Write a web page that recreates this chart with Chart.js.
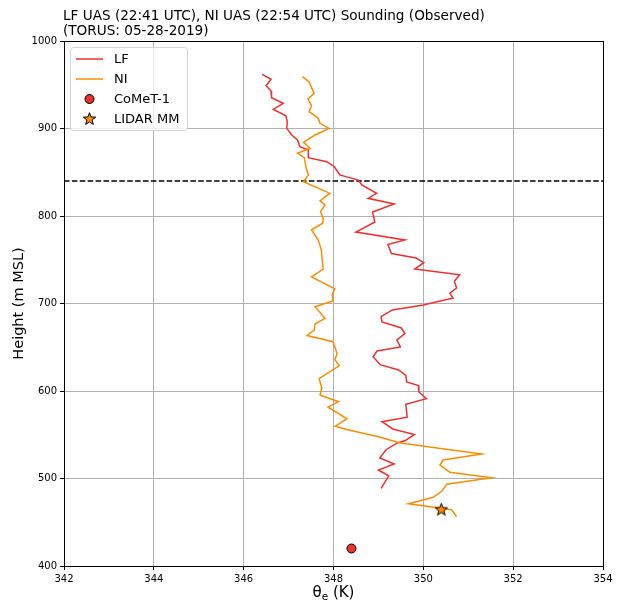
<!DOCTYPE html>
<html>
<head>
<meta charset="utf-8">
<script src="https://cdn.jsdelivr.net/npm/chart.js@4.4.1/dist/chart.umd.min.js"></script>
<style>
  html, body { margin: 0; padding: 0; background: #fff; }
  #wrap { width: 618px; height: 600px; }
</style>
</head>
<body>
<div id="wrap"><canvas id="chart" width="618" height="600"></canvas></div>
<script>
// sounding data (theta-e in K, height in m MSL)
const lfTheta = [346.41, 346.61, 346.50, 346.61, 346.62, 346.88, 346.66, 346.94, 346.97, 346.96,
  347.07, 347.20, 347.25, 347.44, 347.44, 347.85, 348.02, 348.14, 348.55, 348.63,
  348.96, 348.77, 349.35, 348.87, 348.92, 348.50, 349.59, 349.21, 349.29, 349.84,
  350.01, 349.81, 350.81, 350.69, 350.74, 350.59, 350.66, 350.00, 349.31, 349.06,
  349.08, 349.51, 349.59, 349.41, 349.49, 348.97, 348.88, 349.04, 349.45, 349.61,
  349.63, 349.89, 349.90, 350.07, 349.61, 349.64, 349.08, 349.32, 349.80, 349.60,
  349.42, 349.17, 349.03, 349.35, 349.00, 349.23, 349.06];
const lfHeight = [961.9, 956.2, 948.9, 942.9, 935.2, 928.8, 921.9, 914.6, 907.8, 900.2,
  892.6, 886.9, 879.2, 875.4, 866.6, 862.1, 856.3, 846.9, 841.1, 835.4,
  825.9, 820.2, 813.7, 804.6, 793.1, 781.7, 772.6, 767.4, 757.1, 752.0,
  746.6, 739.4, 732.9, 725.4, 717.7, 711.7, 706.3, 698.3, 692.6, 685.1,
  678.9, 672.0, 665.7, 658.3, 650.3, 645.7, 639.2, 630.1, 624.0, 617.7,
  610.3, 606.3, 598.9, 591.2, 584.9, 570.1, 564.9, 556.6, 550.3, 543.4,
  540.6, 532.9, 523.4, 516.6, 509.7, 503.1, 488.8];

const niTheta = [347.31, 347.45, 347.57, 347.43, 347.51, 347.46, 347.66, 347.70, 347.90, 347.59,
  347.33, 347.48, 347.20, 347.35, 347.39, 347.44, 347.33, 347.92, 347.70, 347.81,
  347.71, 347.77, 347.76, 347.51, 347.66, 347.73, 347.75, 347.77, 347.51, 348.03,
  347.97, 347.99, 347.59, 347.81, 347.59, 347.57, 347.41, 347.99, 348.08, 348.03,
  348.13, 347.68, 347.74, 347.70, 348.11, 347.88, 348.30, 348.04, 348.29, 348.98,
  349.49, 351.30, 350.44, 350.37, 350.59, 351.52, 350.52, 350.42, 350.22, 349.67,
  350.63, 350.74];
const niHeight = [959.2, 953.5, 940.2, 933.7, 926.1, 919.2, 911.7, 905.9, 900.2, 892.6,
  884.2, 877.4, 871.7, 866.6, 855.4, 846.9, 839.2, 825.9, 817.5, 812.6,
  804.9, 797.4, 791.7, 784.3, 772.6, 761.1, 749.7, 739.4, 730.3, 716.8,
  710.3, 702.9, 696.3, 683.1, 676.6, 669.7, 663.4, 656.3, 642.6, 635.8,
  629.1, 614.1, 603.1, 595.4, 587.8, 581.5, 568.3, 559.8, 556.0, 548.0,
  540.6, 528.0, 521.1, 515.4, 507.2, 500.9, 493.5, 485.9, 478.5, 471.2,
  464.3, 456.3];

const cometTheta = [348.4];
const cometHeight = [420];
const lidarTheta = [350.4];
const lidarHeight = [465];

const inversionHeight = 840;

const xTickValues = [342, 344, 346, 348, 350, 352, 354];
const yTickValues = [400, 500, 600, 700, 800, 900, 1000];

const titleLines = ['LF UAS (22:41 UTC), NI UAS (22:54 UTC) Sounding (Observed)', '(TORUS: 05-28-2019)'];

const RED = '#f22f2f';
const ORANGE = '#ff8c00';
const FONT = "'DejaVu Sans', sans-serif";

const toXY = (xs, ys) => xs.map((x, i) => ({ x, y: ys[i] }));

function makeStar(r, fill) {
  const c = document.createElement('canvas');
  const size = Math.ceil(2 * r + 4);
  c.width = size; c.height = size;
  const g = c.getContext('2d');
  const cx = size / 2, cy = size / 2 + r * 0.1;
  g.beginPath();
  for (let i = 0; i < 10; i++) {
    const rad = i % 2 === 0 ? r : r * 0.42;
    const a = -Math.PI / 2 + i * Math.PI / 5;
    const px = cx + rad * Math.cos(a), py = cy + rad * Math.sin(a);
    i === 0 ? g.moveTo(px, py) : g.lineTo(px, py);
  }
  g.closePath();
  g.fillStyle = fill;
  g.fill();
  g.lineWidth = 1;
  g.strokeStyle = '#000';
  g.stroke();
  return c;
}
const starImg = makeStar(6.5, ORANGE);

// title, x label with subscript, outer frame and in-axes legend
const decorations = {
  id: 'decorations',
  afterDatasetsDraw(chart) {
    const { ctx, chartArea: a } = chart;
    ctx.save();
    ctx.strokeStyle = '#000';
    ctx.lineWidth = 1;
    ctx.strokeRect(Math.round(a.left) + 0.5, Math.round(a.top) + 0.5,
      Math.round(a.right - a.left), Math.round(a.bottom - a.top));

    // legend
    const lx = 70.5, ly = 47.5, lw = 117, lh = 83;
    ctx.beginPath();
    ctx.roundRect(lx, ly, lw, lh, 3);
    ctx.fillStyle = 'rgba(255,255,255,0.8)';
    ctx.fill();
    ctx.strokeStyle = '#d4d4d4';
    ctx.stroke();

    ctx.font = '13px ' + FONT;
    ctx.textBaseline = 'middle';
    ctx.fillStyle = '#000';
    const rows = [59, 79, 99, 118.5];
    ctx.lineWidth = 1.5;
    ctx.strokeStyle = RED;
    ctx.beginPath(); ctx.moveTo(76, rows[0]); ctx.lineTo(103, rows[0]); ctx.stroke();
    ctx.strokeStyle = ORANGE;
    ctx.beginPath(); ctx.moveTo(76, rows[1]); ctx.lineTo(103, rows[1]); ctx.stroke();
    ctx.beginPath();
    ctx.arc(89.5, rows[2], 4.5, 0, Math.PI * 2);
    ctx.fillStyle = RED; ctx.fill();
    ctx.lineWidth = 1; ctx.strokeStyle = '#000'; ctx.stroke();
    ctx.drawImage(starImg, 89.5 - starImg.width / 2, rows[3] - starImg.height / 2);
    ctx.fillStyle = '#000';
    ['LF', 'NI', 'CoMeT-1', 'LIDAR MM'].forEach((t, i) => ctx.fillText(t, 114, rows[i] + 1));

    // title
    ctx.font = '13.6px ' + FONT;
    ctx.textAlign = 'left';
    ctx.fillText(titleLines[0], 63, 16);
    ctx.fillText(titleLines[1], 63, 31);

    // x axis label: theta with subscript e
    ctx.textBaseline = 'alphabetic';
    const big = '15px ' + FONT, small = '10.5px ' + FONT;
    ctx.font = big;
    const w1 = ctx.measureText('θ').width, w3 = ctx.measureText(' (K)').width;
    ctx.font = small;
    const w2 = ctx.measureText('e').width;
    let x = (a.left + a.right) / 2 - (w1 + w2 + w3) / 2;
    ctx.font = big; ctx.fillText('θ', x, 597); x += w1;
    ctx.font = small; ctx.fillText('e', x, 600); x += w2;
    ctx.font = big; ctx.fillText(' (K)', x, 597);
    ctx.restore();
  }
};

Chart.defaults.font.family = FONT;
Chart.defaults.color = '#000';

new Chart(document.getElementById('chart'), {
  type: 'scatter',
  data: {
    datasets: [
      { label: 'CoMeT-1', data: toXY(cometTheta, cometHeight), order: 0,
        pointRadius: 4.5, pointBackgroundColor: RED, pointBorderColor: '#000', pointBorderWidth: 1 },
      { label: 'LIDAR MM', data: toXY(lidarTheta, lidarHeight), order: 0,
        pointStyle: starImg, pointRadius: 6.5 },
      { label: 'LF', data: toXY(lfTheta, lfHeight), order: 2, showLine: true,
        borderColor: RED, borderWidth: 1.5, pointRadius: 0, tension: 0 },
      { label: 'NI', data: toXY(niTheta, niHeight), order: 1, showLine: true,
        borderColor: ORANGE, borderWidth: 1.5, pointRadius: 0, tension: 0 },
      { label: 'inversion', data: [{ x: 342, y: inversionHeight }, { x: 354, y: inversionHeight }],
        order: 3, showLine: true, borderColor: '#000', borderWidth: 1.5, borderDash: [5.5, 2.4],
        pointRadius: 0 }
    ]
  },
  options: {
    responsive: false,
    animation: false,
    events: [],
    layout: { padding: { top: 41, right: 15, left: 0, bottom: 0 } },
    plugins: { legend: { display: false }, title: { display: false }, tooltip: { enabled: false } },
    scales: {
      x: {
        type: 'linear', min: 342, max: 354,
        afterBuildTicks: s => { s.ticks = xTickValues.map(v => ({ value: v })); },
        afterFit: s => { s.height = 34; },
        ticks: { font: { size: 10 }, padding: 3, color: '#000', callback: v => String(v) },
        grid: { color: '#b0b0b0', lineWidth: 1, tickColor: '#000', tickLength: 4 },
        border: { display: true, color: '#000', width: 1 },
        title: { display: false }
      },
      y: {
        type: 'linear', min: 400, max: 1000,
        afterBuildTicks: s => { s.ticks = yTickValues.map(v => ({ value: v })); },
        afterFit: s => { s.width = 64; },
        ticks: { font: { size: 10 }, padding: 3, color: '#000', callback: v => String(v) },
        grid: { color: '#b0b0b0', lineWidth: 1, tickColor: '#000', tickLength: 4 },
        border: { display: true, color: '#000', width: 1 },
        title: { display: true, text: 'Height (m MSL)', font: { size: 14.5 }, padding: { top: 11, bottom: 0 } }
      }
    }
  },
  plugins: [decorations]
});
</script>
</body>
</html>
